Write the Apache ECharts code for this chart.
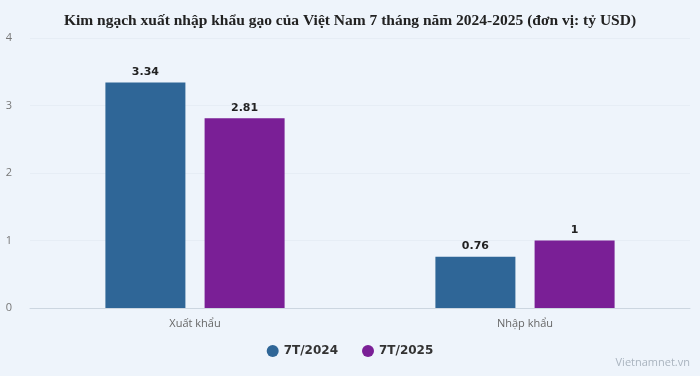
<!DOCTYPE html>
<html>
<head>
<meta charset="utf-8">
<script src="https://cdn.jsdelivr.net/npm/echarts@6/dist/echarts.min.js"></script>
<style>
  html, body { margin: 0; padding: 0; background: #eef4fb; }
  #main { width: 700px; height: 376px; }
</style>
</head>
<body>
<div id="main"></div>
<script>
var categories = ['Xuất khẩu', 'Nhập khẩu'];
var seriesNames = ['7T/2024', '7T/2025'];
var values2024 = [3.34, 0.76];
var values2025 = [2.81, 1];
var colors = ['#2f6697', '#7a1f96'];

var labelStyle = {
    show: true,
    position: 'top',
    color: '#222',
    fontWeight: 'bold',
    fontSize: 11,
    fontFamily: 'DejaVu Sans'
};

var option = {
    backgroundColor: '#eef4fb',
    title: {
        text: 'Kim ngạch xuất nhập khẩu gạo của Việt Nam 7 tháng năm 2024-2025 (đơn vị: tỷ USD)',
        left: 'center',
        top: 8,
        textStyle: {
            fontFamily: 'Liberation Serif',
            fontWeight: 'bold',
            fontSize: 15.5,
            color: '#222'
        }
    },
    grid: { left: 30, right: 10, top: 38, bottom: 68 },
    legend: {
        data: seriesNames,
        bottom: 14,
        icon: 'circle',
        itemWidth: 12,
        itemHeight: 12,
        itemGap: 24,
        textStyle: { color: '#333', fontSize: 12, fontWeight: 'bold', fontFamily: 'DejaVu Sans' }
    },
    xAxis: {
        type: 'category',
        data: categories,
        axisLine: { lineStyle: { color: '#ccd6e0' } },
        axisTick: { show: false },
        axisLabel: { color: '#666', fontSize: 11, margin: 10, fontFamily: 'Open Sans' }
    },
    yAxis: {
        type: 'value',
        min: 0,
        max: 4,
        interval: 1,
        axisLabel: { color: '#777', fontSize: 11, margin: 18, fontFamily: 'Open Sans' },
        splitLine: { lineStyle: { color: '#e6edf5' } }
    },
    series: [
        {
            name: seriesNames[0],
            type: 'bar',
            barWidth: 80,
            barGap: '24%',
            itemStyle: { color: colors[0] },
            label: labelStyle,
            data: values2024
        },
        {
            name: seriesNames[1],
            type: 'bar',
            barWidth: 80,
            itemStyle: { color: colors[1] },
            label: labelStyle,
            data: values2025
        }
    ],
    graphic: [{
        type: 'text',
        right: 10,
        bottom: 8,
        style: { text: 'Vietnamnet.vn', fill: '#aab4bf', fontSize: 11, fontFamily: 'Open Sans' }
    }]
};

var myChart = echarts.init(document.getElementById('main'));
myChart.setOption(option);
</script>
</body>
</html>
